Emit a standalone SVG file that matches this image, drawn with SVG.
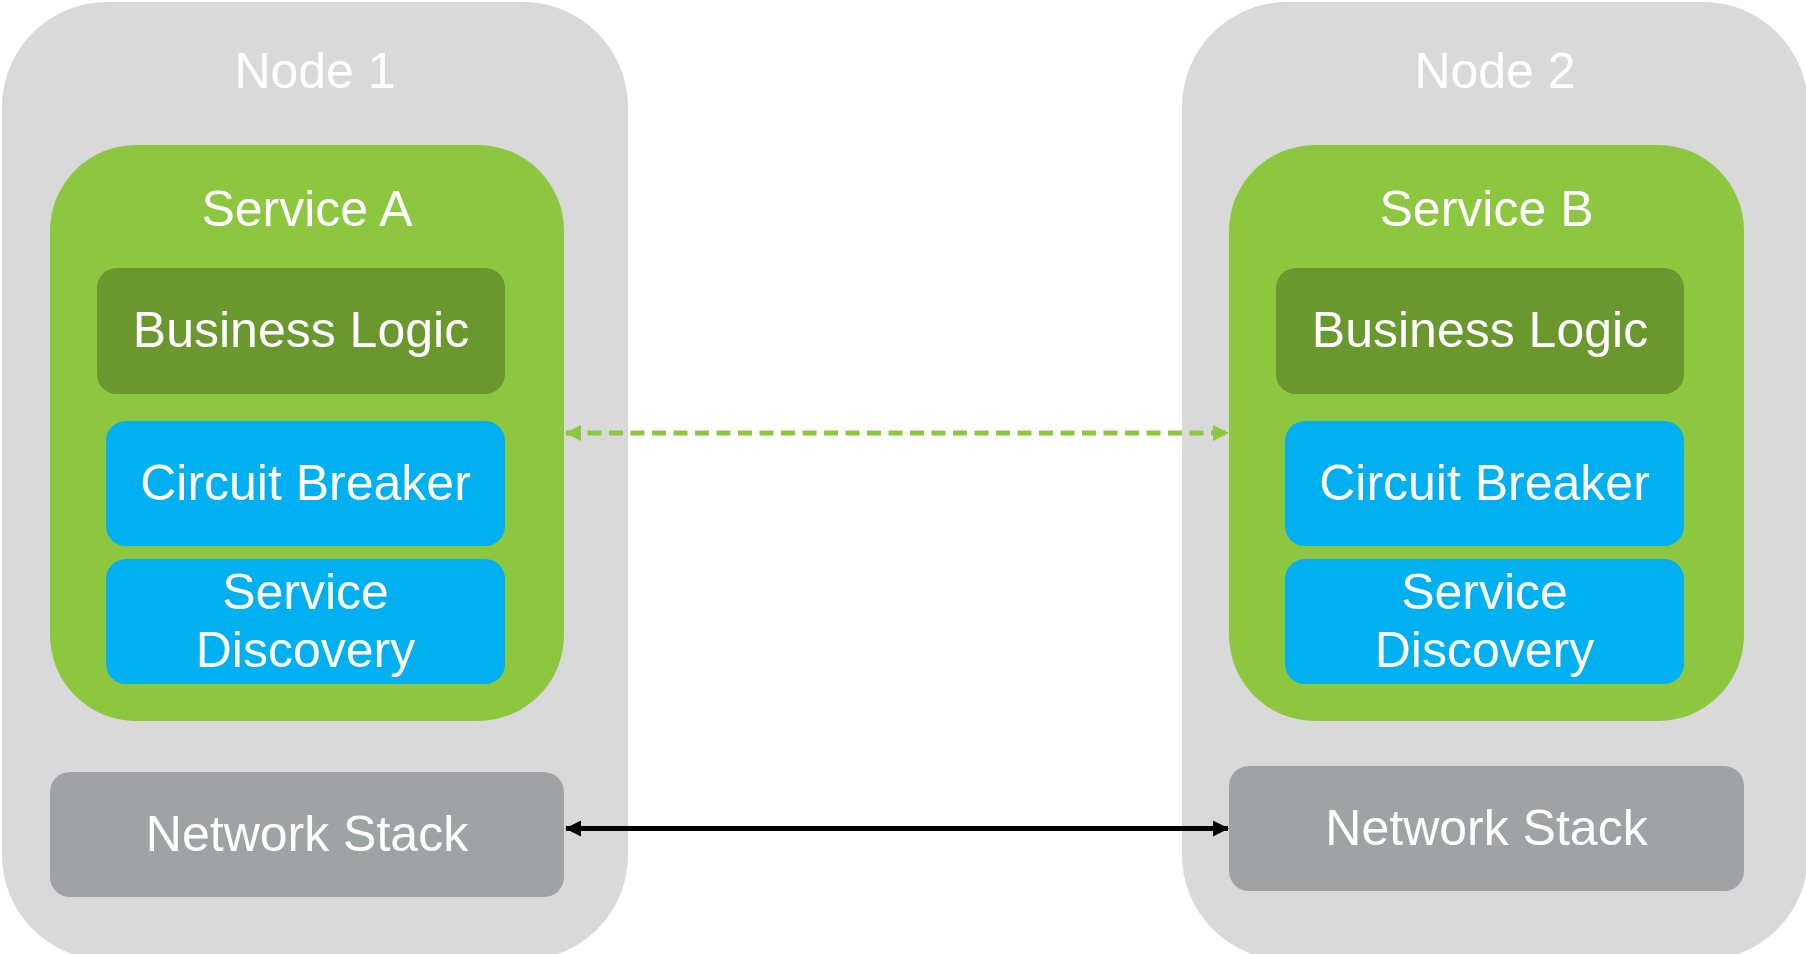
<svg xmlns="http://www.w3.org/2000/svg" width="1806" height="954" viewBox="0 0 1806 954">
  <style>
    .node { fill: #D9D9D9; }
    .svc { fill: #8DC63F; }
    .biz { fill: #6A982F; }
    .comp { fill: #00B0F0; }
    .net { fill: #A0A3A4; }
    .lbl { font-family: "Liberation Sans", Arial, sans-serif; font-size: 50px; fill: #FFFFFF; text-anchor: middle; }
    .dash { stroke: #8DC63F; stroke-width: 5; stroke-dasharray: 14 7.5; fill: none; }
    .solid { stroke: #000000; stroke-width: 5; fill: none; }
  </style>
  <defs>
    <marker id="arrow-green" viewBox="0 0 16 16" refX="15" refY="8" markerWidth="16" markerHeight="16" markerUnits="userSpaceOnUse" orient="auto-start-reverse">
      <path d="M0,0 L16,8 L0,16 Z" fill="#8DC63F"/>
    </marker>
    <marker id="arrow-black" viewBox="0 0 16 16" refX="15" refY="8" markerWidth="16" markerHeight="16" markerUnits="userSpaceOnUse" orient="auto-start-reverse">
      <path d="M0,0 L16,8 L0,16 Z" fill="#000000"/>
    </marker>
  </defs>

  <rect width="1806" height="954" fill="#FFFFFF"/>

  <g id="node-1">
    <rect class="node" x="2" y="2" width="626" height="958" rx="105" ry="105"/>
    <text class="lbl" x="315" y="88">Node 1</text>
  </g>
  <g id="service-a">
    <rect class="svc" x="50" y="145" width="514" height="576" rx="86" ry="86"/>
    <text class="lbl" x="307" y="226">Service A</text>
  </g>
  <g id="business-logic-a">
    <rect class="biz" x="97" y="268" width="408" height="126" rx="20" ry="20"/>
    <text class="lbl" x="301" y="347">Business Logic</text>
  </g>
  <g id="circuit-breaker-a">
    <rect class="comp" x="106" y="421" width="399" height="125" rx="20" ry="20"/>
    <text class="lbl" x="305.5" y="500">Circuit Breaker</text>
  </g>
  <g id="service-discovery-a">
    <rect class="comp" x="106" y="559" width="399" height="125" rx="20" ry="20"/>
    <text class="lbl" x="305.5" y="609">Service</text>
    <text class="lbl" x="305.5" y="667">Discovery</text>
  </g>
  <g id="network-stack-a">
    <rect class="net" x="50" y="772" width="514" height="125" rx="20" ry="20"/>
    <text class="lbl" x="307" y="851">Network Stack</text>
  </g>

  <g id="node-2">
    <rect class="node" x="1182" y="2" width="626" height="958" rx="105" ry="105"/>
    <text class="lbl" x="1495" y="88">Node 2</text>
  </g>
  <g id="service-b">
    <rect class="svc" x="1229" y="145" width="515" height="576" rx="86" ry="86"/>
    <text class="lbl" x="1486.5" y="226">Service B</text>
  </g>
  <g id="business-logic-b">
    <rect class="biz" x="1276" y="268" width="408" height="126" rx="20" ry="20"/>
    <text class="lbl" x="1480" y="347">Business Logic</text>
  </g>
  <g id="circuit-breaker-b">
    <rect class="comp" x="1285" y="421" width="399" height="125" rx="20" ry="20"/>
    <text class="lbl" x="1484.5" y="500">Circuit Breaker</text>
  </g>
  <g id="service-discovery-b">
    <rect class="comp" x="1285" y="559" width="399" height="125" rx="20" ry="20"/>
    <text class="lbl" x="1484.5" y="609">Service</text>
    <text class="lbl" x="1484.5" y="667">Discovery</text>
  </g>
  <g id="network-stack-b">
    <rect class="net" x="1229" y="766" width="515" height="125" rx="20" ry="20"/>
    <text class="lbl" x="1486.5" y="845">Network Stack</text>
  </g>

  <g id="connectors">
    <line class="dash" x1="566" y1="433" x2="1228" y2="433" marker-start="url(#arrow-green)" marker-end="url(#arrow-green)"/>
    <line class="solid" x1="566" y1="828.5" x2="1228" y2="828.5" marker-start="url(#arrow-black)" marker-end="url(#arrow-black)"/>
  </g>
</svg>
